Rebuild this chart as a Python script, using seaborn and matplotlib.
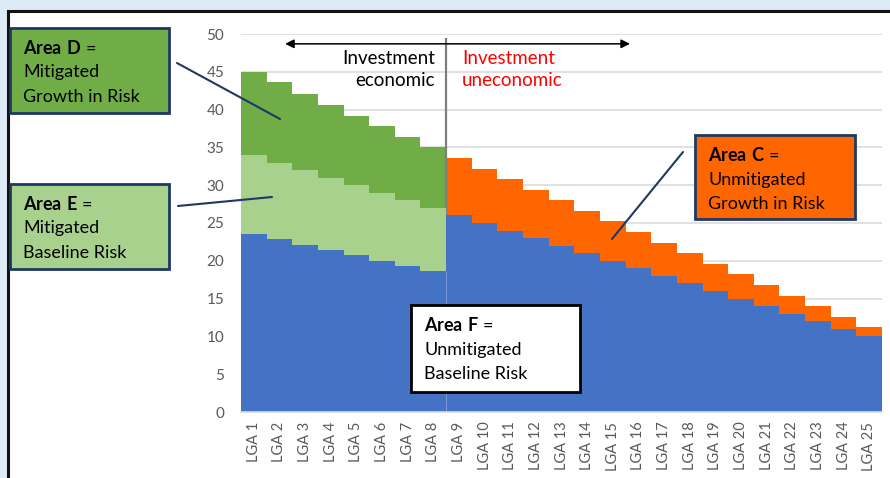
import matplotlib
matplotlib.use("Agg")
import matplotlib.pyplot as plt
from matplotlib.patches import Rectangle
from matplotlib.lines import Line2D
import pandas as pd
import seaborn as sns

# ---- data -------------------------------------------------------------
categories = ["LGA 1", "LGA 2", "LGA 3", "LGA 4", "LGA 5", "LGA 6", "LGA 7",
              "LGA 8", "LGA 9", "LGA 10", "LGA 11", "LGA 12", "LGA 13",
              "LGA 14", "LGA 15", "LGA 16", "LGA 17", "LGA 18", "LGA 19",
              "LGA 20", "LGA 21", "LGA 22", "LGA 23", "LGA 24", "LGA 25"]

# Area F: baseline risk left unmitigated (all LGAs)
unmitigated_baseline = [23.5, 22.9, 22.1, 21.4, 20.8, 20.0, 19.3, 18.6,
                        26.0, 25.0, 24.0, 23.0, 22.0, 21.0, 20.0, 19.0, 18.0,
                        17.0, 16.0, 15.0, 14.0, 13.0, 12.0, 11.0, 10.0]
# Area E: baseline risk mitigated (LGA 1-8)
mitigated_baseline = [10.5, 10.1, 9.9, 9.6, 9.2, 9.0, 8.7, 8.4]
# Area D: growth in risk mitigated (LGA 1-8)
mitigated_growth = [11.0, 10.6, 10.1, 9.6, 9.2, 8.8, 8.4, 8.0]
# Area C: growth in risk left unmitigated (LGA 9-25)
unmitigated_growth = [7.6, 7.2, 6.8, 6.4, 6.0, 5.6, 5.2, 4.8, 4.4, 4.0, 3.6,
                      3.2, 2.8, 2.4, 2.0, 1.6, 1.2]

y_ticks = [0, 5, 10, 15, 20, 25, 30, 35, 40, 45, 50]

BLUE = "#4472C4"
LIGHT_GREEN = "#A9D18E"
DARK_GREEN = "#70AD47"
ORANGE = "#FF6600"
NAVY = "#1F3864"

# ---- stacked layers as cumulative tops ---------------------------------
n_mit = len(mitigated_baseline)
mit_cats = categories[:n_mit]
unmit_cats = categories[n_mit:]

blue_top = unmitigated_baseline
light_top = [b + m for b, m in zip(unmitigated_baseline[:n_mit], mitigated_baseline)]
dark_top = [l + g for l, g in zip(light_top, mitigated_growth)]
orange_top = [b + g for b, g in zip(unmitigated_baseline[n_mit:], unmitigated_growth)]

sns.set_theme(style="white")
plt.rcParams["font.family"] = ["Lato", "DejaVu Sans"]
plt.rcParams["mathtext.fontset"] = "custom"
plt.rcParams["mathtext.rm"] = "Lato"
plt.rcParams["mathtext.bf"] = "Lato:bold"

W, H = 890, 478
fig = plt.figure(figsize=(W / 100, H / 100), dpi=100, facecolor="#DEEBF7")


def fx(x):
    return x / W


def fy(y):
    return 1 - y / H


# white panel with dark border (open to the right and bottom)
panel = Rectangle((fx(8), -0.05), 1.1, fy(11) + 0.05,
                  transform=fig.transFigure, facecolor="white",
                  edgecolor="#111111", linewidth=2.2, zorder=-5)
fig.add_artist(panel)

ax = fig.add_axes([fx(241), fy(412), fx(882) - fx(241), fy(34) - fy(412)])
ax.set_zorder(2)
ax.set_facecolor("none")

layers = [
    (mit_cats, dark_top, DARK_GREEN),
    (unmit_cats, orange_top, ORANGE),
    (mit_cats, light_top, LIGHT_GREEN),
    (categories, blue_top, BLUE),
]
for i, (cats, tops, color) in enumerate(layers):
    df = pd.DataFrame({"LGA": cats, "risk": tops})
    sns.barplot(data=df, x="LGA", y="risk", order=categories, color=color,
                width=1.0, saturation=1, linewidth=0, ax=ax, zorder=2 + i)
    if color == ORANGE:
        # divider between economic and uneconomic investment
        ax.vlines(7.5, 0, 49.5, color="#7F7F7F", linewidth=1.6, zorder=3.5)

ax.vlines(7.5, 0, unmitigated_baseline[n_mit - 1], color="#7E9BD6",
          linewidth=0.7, zorder=6)

ax.set_xlim(-0.5, len(categories) - 0.5)
ax.set_ylim(0, 50)
ax.set_yticks(y_ticks)
ax.set_xlabel("")
ax.set_ylabel("")
ax.grid(axis="y", color="#D9D9D9", linewidth=1.1, zorder=0)
ax.set_axisbelow(True)
for s in ["top", "right", "left"]:
    ax.spines[s].set_visible(False)
ax.spines["bottom"].set_color("#D9D9D9")
ax.spines["bottom"].set_zorder(10)
ax.tick_params(axis="y", length=0, pad=12, labelsize=11, labelcolor="#595959")
ax.tick_params(axis="x", length=0, pad=7, labelsize=10.5, labelcolor="#595959",
               rotation=90)

# investment arrow and labels
ax.annotate("", xy=(1.22, 48.7), xytext=(14.67, 48.7),
            arrowprops=dict(arrowstyle="<|-|>", color="black", lw=1.1,
                            mutation_scale=13, shrinkA=0, shrinkB=0),
            zorder=8)
fig.text(fx(435), fy(58), "Investment", ha="right", va="center",
         fontsize=13.5, color="black", zorder=10)
fig.text(fx(435), fy(81), "economic", ha="right", va="center",
         fontsize=13.5, color="black", zorder=10)
fig.text(fx(462), fy(58), "Investment", ha="left", va="center",
         fontsize=13.5, color="#FF0000", zorder=10)
fig.text(fx(462), fy(81), "uneconomic", ha="left", va="center",
         fontsize=13.5, color="#FF0000", zorder=10)


def area_box(x0, y0, x1, y1, face, edge, title, lines):
    fig.add_artist(Rectangle((fx(x0), fy(y1)), fx(x1) - fx(x0),
                             fy(y0) - fy(y1), transform=fig.transFigure,
                             facecolor=face, edgecolor=edge,
                             linewidth=2, zorder=20))
    tx = x0 + 13
    ty = y0 + 20
    fig.text(fx(tx), fy(ty), title, ha="left", va="center", fontsize=13,
             color="black", zorder=21)
    for k, line in enumerate(lines):
        fig.text(fx(tx), fy(ty + 24.5 * (k + 1)), line, ha="left",
                 va="center", fontsize=13, color="black", zorder=21)


def connector(xa, ya, xb, yb):
    fig.add_artist(Line2D([fx(xa), fx(xb)], [fy(ya), fy(yb)],
                          transform=fig.transFigure, color=NAVY,
                          linewidth=1.5, zorder=19))


area_box(10, 28, 169, 113, DARK_GREEN, NAVY, r"$\mathbf{Area\ D}$ =",
         ["Mitigated", "Growth in Risk"])
connector(177, 63, 280, 119)

area_box(10, 184, 169, 269, LIGHT_GREEN, NAVY, r"$\mathbf{Area\ E}$ =",
         ["Mitigated", "Baseline Risk"])
connector(178, 206, 272, 197)

area_box(695, 135, 855, 219, ORANGE, NAVY, r"$\mathbf{Area\ C}$ =",
         ["Unmitigated", "Growth in Risk"])
connector(683, 152, 612, 239)

area_box(411, 305, 580, 392, "white", "black", r"$\mathbf{Area\ F}$ =",
         ["Unmitigated", "Baseline Risk"])

fig.savefig("out.png", dpi=100, facecolor=fig.get_facecolor())
